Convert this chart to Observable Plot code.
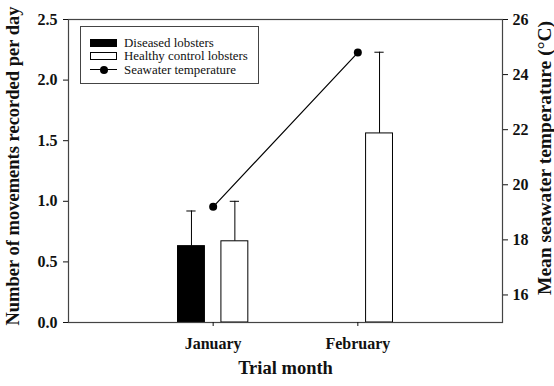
<!DOCTYPE html>
<html><head><meta charset="utf-8">
<script src="https://cdn.jsdelivr.net/npm/d3@7"></script>
<script src="https://cdn.jsdelivr.net/npm/@observablehq/plot@0.6"></script>
<style>
body{margin:0;background:#fff;}
#wrap{position:relative;width:554px;height:386px;font-family:"Liberation Serif","Times New Roman",serif;}
#legend{position:absolute;left:80px;top:26px;width:179px;height:58px;border:1px solid #444;box-sizing:border-box;background:#fff;font-size:12.9px;color:#111;}
.row{position:absolute;left:9px;height:12px;line-height:12px;display:flex;align-items:center;white-space:nowrap;}
.row span{display:block;line-height:12px;}
.sw{width:27px;height:8px;box-sizing:border-box;border:1px solid #000;margin-right:7px;}
.ln{position:relative;width:27px;height:8px;margin-right:7px;}
.ln:before{content:"";position:absolute;left:0;right:0;top:3.5px;border-top:1.2px solid #000;}
.ln:after{content:"";position:absolute;left:9.5px;top:0;width:8px;height:8px;border-radius:50%;background:#000;}
</style>
</head><body>
<div id="wrap"><div id="chart"></div>
<div id="legend"></div></div>
<script>
const months = ["January", "February"];
const monthPos = [1, 2];
const diseased = [0.63, null];
const diseasedErr = [0.92, null];
const healthy = [0.67, 1.56];
const healthyErr = [1.00, 2.23];
const temperature = [19.2, 24.8];
const leftTicks = [0, 0.5, 1.0, 1.5, 2.0, 2.5];
const rightTicks = [16, 18, 20, 22, 24, 26];
const legendLabels = ["Diseased lobsters", "Healthy control lobsters", "Seawater temperature"];

const tMin = 15, tMax = 26, yMax = 2.5;
const toLeft = t => (t - tMin) / (tMax - tMin) * yMax;
const fromLeft = v => v / yMax * (tMax - tMin) + tMin;

const off = 0.15, half = 0.093, cap = 0.032;
const bars = [];
months.forEach((m, i) => {
  if (diseased[i] != null) bars.push({pos: monthPos[i] - off, v: diseased[i], e: diseasedErr[i], fill: "#000"});
  if (healthy[i] != null) bars.push({pos: monthPos[i] + off, v: healthy[i], e: healthyErr[i], fill: "#fff"});
});
const temps = months.map((m, i) => ({pos: monthPos[i], y: toLeft(temperature[i])}));

const font = {fontFamily: "Liberation Serif, Times New Roman, serif", fontWeight: "bold"};

const chart = Plot.plot({
  width: 554, height: 386,
  marginLeft: 68, marginRight: 52, marginTop: 19, marginBottom: 64,
  style: {fontFamily: "Liberation Serif, Times New Roman, serif", background: "#fff", color: "#111", overflow: "visible"},
  x: {domain: [0, 3], axis: null},
  y: {domain: [0, yMax], axis: null},
  marks: [
    Plot.ruleX(bars, {x: "pos", y1: "v", y2: "e", stroke: "#000", strokeWidth: 1}),
    Plot.ruleY(bars, {y: "e", x1: d => d.pos - cap, x2: d => d.pos + cap, stroke: "#000", strokeWidth: 1}),
    Plot.rectY(bars, {x1: d => d.pos - half, x2: d => d.pos + half, y1: 0, y2: "v", fill: "fill", stroke: "#000", strokeWidth: 1}),
    Plot.line(temps, {x: "pos", y: "y", stroke: "#000", strokeWidth: 1.2}),
    Plot.dot(temps, {x: "pos", y: "y", r: 4, fill: "#000", stroke: "none"}),
    Plot.frame({stroke: "#444", strokeWidth: 1.2}),
    Plot.axisY({anchor: "left", ticks: leftTicks, tickFormat: d3.format(".1f"), tickSize: 5, tickPadding: 6, label: null, fontSize: 16, ...font}),
    Plot.axisY({anchor: "right", ticks: rightTicks.map(toLeft), tickFormat: v => String(Math.round(fromLeft(v))), tickSize: 5, tickPadding: 5, label: null, fontSize: 16, ...font}),
    Plot.axisX({anchor: "bottom", ticks: monthPos, tickFormat: v => months[v - 1], tickSize: 4, tickPadding: 11, label: null, fontSize: 16, ...font}),
    Plot.text(["Number of movements recorded per day"], {frameAnchor: "left", textAnchor: "middle", rotate: -90, dx: -55, dy: -5, text: d => d, fontSize: 18.5, ...font}),
    Plot.text(["Mean seawater temperature (°C)"], {frameAnchor: "right", textAnchor: "middle", lineAnchor: "bottom", rotate: -90, dx: 48, dy: -13, text: d => d, fontSize: 19.5, ...font}),
    Plot.text(["Trial month"], {frameAnchor: "bottom", textAnchor: "middle", dy: 51, text: d => d, fontSize: 18.5, ...font})
  ]
});
document.getElementById("chart").appendChild(chart);

const leg = document.getElementById("legend");
const tops = [9.5, 23, 36.5];
legendLabels.forEach((lab, i) => {
  const row = document.createElement("div");
  row.className = "row";
  row.style.top = tops[i] + "px";
  const sw = document.createElement("div");
  if (i < 2) { sw.className = "sw"; sw.style.background = i === 0 ? "#000" : "#fff"; }
  else sw.className = "ln";
  row.appendChild(sw);
  const t = document.createElement("span");
  t.textContent = lab;
  row.appendChild(t);
  leg.appendChild(row);
});
</script>
</body></html>
